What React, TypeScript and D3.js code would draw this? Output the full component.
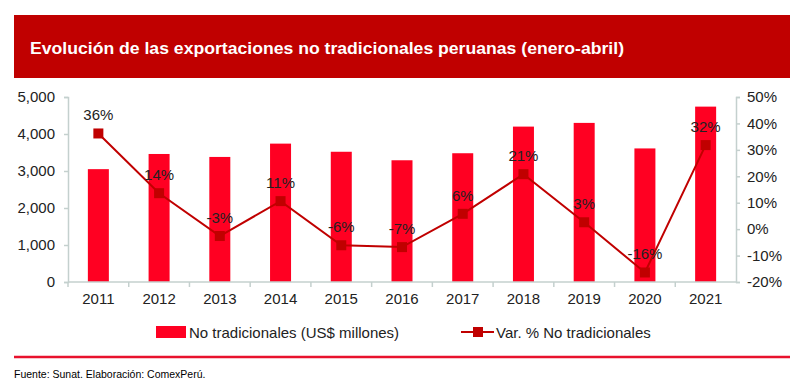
import { useEffect, useRef } from 'react';
import * as d3 from 'd3';

const years = ['2011', '2012', '2013', '2014', '2015', '2016', '2017', '2018', '2019', '2020', '2021'];
const exportValues = [3050, 3460, 3380, 3740, 3520, 3290, 3480, 4200, 4300, 3610, 4740];
const variation = [36.2, 13.6, -2.6, 10.6, -6.1, -6.8, 5.8, 20.8, 2.6, -16.4, 31.8];
const leftTicks = [0, 1000, 2000, 3000, 4000, 5000];
const rightTicks = [-20, -10, 0, 10, 20, 30, 40, 50];

const BAR = '#FF0022';
const LINE = '#C00000';
const AXIS = '#C4D0CE';
const FONT = 'Liberation Sans, Arial, sans-serif';

const App = () => {
  const svgRef = useRef<SVGSVGElement | null>(null);
  const width = 800;
  const height = 390;

  useEffect(() => {
    document.body.style.margin = '0';
    const svg = d3.select(svgRef.current);
    svg.selectAll('*').remove();

    svg.append('rect').attr('width', width).attr('height', height).attr('fill', '#fff');

    // Title bar
    svg.append('rect')
      .attr('x', 14).attr('y', 15).attr('width', 776).attr('height', 63)
      .attr('fill', '#C00000');
    svg.append('text')
      .attr('x', 30).attr('y', 54)
      .attr('fill', '#fff')
      .style('font-family', FONT)
      .style('font-weight', 'bold')
      .style('font-size', '17px')
      .attr('textLength', 594)
      .attr('lengthAdjust', 'spacingAndGlyphs')
      .text('Evolución de las exportaciones no tradicionales peruanas (enero-abril)');

    const left = 68, right = 736, top = 97, bottom = 282;

    const x = d3.scaleBand().domain(years).range([left, right]).paddingInner(0).paddingOuter(0);
    const yL = d3.scaleLinear().domain([0, 5000]).range([bottom, top]);
    const yR = d3.scaleLinear().domain([-20, 50]).range([bottom, top]);

    // Bars
    const barW = 21;
    svg.selectAll('.bar')
      .data(years)
      .enter()
      .append('rect')
      .attr('x', (d) => (x(d) as number) + x.bandwidth() / 2 - barW / 2)
      .attr('y', (d, i) => yL(exportValues[i]))
      .attr('width', barW)
      .attr('height', (d, i) => bottom - yL(exportValues[i]))
      .attr('fill', BAR);

    // Left axis
    const gl = svg.append('g').attr('transform', `translate(${left},0)`)
      .call(d3.axisLeft(yL).tickValues(leftTicks).tickFormat(d3.format(',')).tickSize(4).tickPadding(9));
    // Right axis
    const gr = svg.append('g').attr('transform', `translate(${right},0)`)
      .call(d3.axisRight(yR).tickValues(rightTicks).tickFormat((d) => `${d}%`).tickSize(4).tickPadding(7));
    // Bottom axis
    const gb = svg.append('g').attr('transform', `translate(0,${bottom})`)
      .call(d3.axisBottom(x).tickSize(0).tickPadding(11));
    gb.selectAll('.tick')
      .append('line')
      .attr('x1', -x.bandwidth() / 2).attr('x2', -x.bandwidth() / 2)
      .attr('y1', 0).attr('y2', 5);
    gb.append('line')
      .attr('x1', right).attr('x2', right).attr('y1', 0).attr('y2', 5);

    [gl, gr, gb].forEach((g) => {
      g.selectAll('.domain').attr('stroke', AXIS).attr('stroke-width', 1.5);
      g.selectAll('.tick line').attr('stroke', AXIS).attr('stroke-width', 1.5);
      g.selectAll('text')
        .style('font-family', FONT)
        .style('font-size', '15px')
        .attr('fill', '#222');
    });
    gb.select('.domain').attr('d', `M${left},0H${right}`);

    // Line
    const cx = (d: string) => (x(d) as number) + x.bandwidth() / 2;
    const line = d3.line<number>()
      .x((d, i) => cx(years[i]))
      .y((d) => yR(d));
    svg.append('path')
      .datum(variation)
      .attr('d', line)
      .attr('fill', 'none')
      .attr('stroke', LINE)
      .attr('stroke-width', 2);

    svg.selectAll('.marker')
      .data(variation)
      .enter()
      .append('rect')
      .attr('x', (d, i) => cx(years[i]) - 5)
      .attr('y', (d) => yR(d) - 5)
      .attr('width', 10).attr('height', 10)
      .attr('fill', LINE);

    svg.selectAll('.pct-label')
      .data(variation)
      .enter()
      .append('text')
      .attr('x', (d, i) => cx(years[i]))
      .attr('y', (d) => yR(d) - 13)
      .attr('text-anchor', 'middle')
      .style('font-family', FONT)
      .style('font-size', '15px')
      .attr('fill', '#222')
      .text((d) => `${Math.round(d)}%`);

    // Legend
    svg.append('rect').attr('x', 156).attr('y', 326).attr('width', 30).attr('height', 12).attr('fill', BAR);
    svg.append('text').attr('x', 189).attr('y', 338)
      .style('font-family', FONT).style('font-size', '15px').attr('fill', '#222')
      .text('No tradicionales (US$ millones)');
    svg.append('line').attr('x1', 461).attr('x2', 494).attr('y1', 332).attr('y2', 332)
      .attr('stroke', LINE).attr('stroke-width', 2);
    svg.append('rect').attr('x', 473).attr('y', 327).attr('width', 10).attr('height', 10).attr('fill', LINE);
    svg.append('text').attr('x', 496).attr('y', 338)
      .style('font-family', FONT).style('font-size', '15px').attr('fill', '#222')
      .text('Var. % No tradicionales');

    // Divider and source
    svg.append('line').attr('x1', 14).attr('x2', 790).attr('y1', 357).attr('y2', 357)
      .attr('stroke', '#E8112D').attr('stroke-width', 2.5);
    svg.append('text').attr('x', 14).attr('y', 378)
      .style('font-family', FONT).style('font-size', '10.5px').attr('fill', '#000')
      .text('Fuente: Sunat. Elaboración: ComexPerú.');
  }, []);

  return <svg ref={svgRef} width={width} height={height} style={{ display: 'block' }} />;
};

export default App;
